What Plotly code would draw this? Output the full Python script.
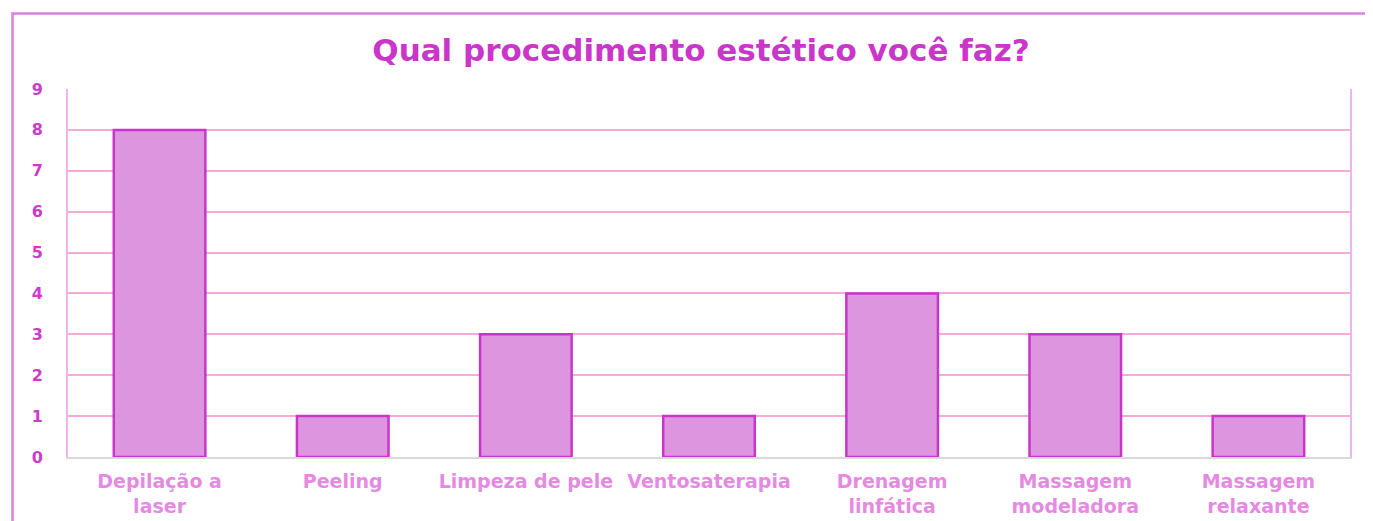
import plotly.graph_objects as go

categories = ["Depilação a<br>laser", "Peeling", "Limpeza de pele", "Ventosaterapia",
              "Drenagem<br>linfática", "Massagem<br>modeladora", "Massagem<br>relaxante"]
values = [8, 1, 3, 1, 4, 3, 1]
y_ticks = [0, 1, 2, 3, 4, 5, 6, 7, 8, 9]
title_text = "Qual procedimento estético você faz?"

# page body has an 8px margin, so the figure is drawn at (8, 8)
OFF = 8
W, H = 1373 - OFF, 521 - OFF
L, R, T, B = 68 - OFF, 1373 - 1350, 89 - OFF, 521 - 457
pw, ph = W - L - R, H - T - B

def px_x(x):
    return (x - OFF - L) / pw

def px_y(y):
    return (H - B - (y - OFF)) / ph

fig = go.Figure(go.Bar(
    x=categories, y=values,
    marker=dict(color="#DE95E0", line=dict(color="#C935C9", width=2.5)),
))

fig.update_layout(
    width=W, height=H,
    margin=dict(l=L, r=R, t=T, b=B, autoexpand=False),
    paper_bgcolor="white", plot_bgcolor="white",
    bargap=0.5,
    showlegend=False,
    font=dict(family="DejaVu Sans"),
    title=dict(text=title_text, x=px_x(701), xanchor="center", xref="paper",
               y=1 - (50 - OFF) / H, yanchor="middle", automargin=False,
               font=dict(size=31, color="#C936C9", family="DejaVu Sans", weight="bold")),
    xaxis=dict(showgrid=False, showline=True, linecolor="#D9D9D9", linewidth=2,
               automargin=False,
               tickfont=dict(size=19, color="#E58AE2", family="DejaVu Sans", weight="bold"),
               ticks="", ticklabelstandoff=6),
    yaxis=dict(range=[0, 9], tickvals=y_ticks, showgrid=True, gridcolor="#F5AAD8",
               gridwidth=1.5, zeroline=False, showline=True, linecolor="#F0B4EA",
               linewidth=2, mirror=True, ticks="", ticklabelstandoff=20, automargin=False,
               tickfont=dict(size=16, color="#CC3CCB", family="DejaVu Sans", weight="bold")),
    shapes=[dict(type="rect", xref="paper", yref="paper",
                 x0=px_x(12.5), x1=px_x(1420), y0=px_y(13.5), y1=px_y(580),
                 line=dict(color="#DA80E0", width=2.5), layer="below")],
)

fig.write_html("out.html")
